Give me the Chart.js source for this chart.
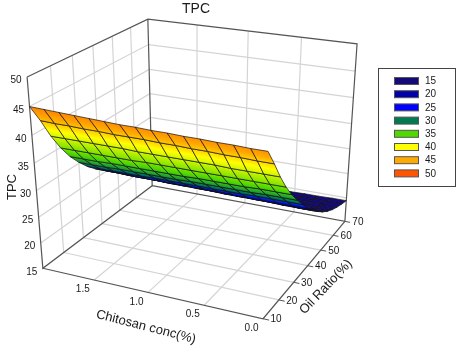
<!DOCTYPE html>
<html>
<head>
<meta charset="utf-8">
<style>
  html, body { margin: 0; padding: 0; background: #fff; }
  #wrap { width: 460px; height: 348px; }
</style>
<script src="https://cdn.jsdelivr.net/npm/chart.js@4/dist/chart.umd.min.js"></script>
</head>
<body>
<div id="wrap"><canvas id="surfaceChart"></canvas></div>
<script>
// grid
const chitosanGrid = [0, 0.133, 0.267, 0.4, 0.533, 0.667, 0.8, 0.933, 1.067, 1.2, 1.333, 1.467, 1.6, 1.733, 1.867, 2.0];
const oilGrid = [10, 14, 18, 22, 26, 30, 34, 38, 42, 46, 50, 54, 58, 62, 66, 70];
const tpcGrid = [
  [44.0, 44.0, 44.1, 44.1, 44.2, 44.2, 44.3, 44.3, 44.4, 44.4, 44.5, 44.6, 44.7, 44.8, 44.9, 45.0],
  [41.0, 41.0, 41.1, 41.1, 41.2, 41.2, 41.3, 41.3, 41.4, 41.4, 41.4, 41.5, 41.5, 41.6, 41.6, 41.7],
  [37.8, 37.8, 37.8, 37.8, 37.9, 37.9, 37.9, 37.9, 37.9, 37.9, 38.0, 38.0, 38.0, 38.0, 38.0, 38.0],
  [35.0, 35.0, 35.0, 35.0, 35.0, 35.0, 35.0, 35.0, 35.0, 35.0, 34.9, 34.9, 34.9, 34.9, 34.9, 34.9],
  [32.6, 32.6, 32.6, 32.5, 32.5, 32.5, 32.5, 32.4, 32.4, 32.4, 32.4, 32.4, 32.4, 32.3, 32.3, 32.3],
  [30.5, 30.5, 30.5, 30.4, 30.4, 30.4, 30.4, 30.4, 30.3, 30.3, 30.3, 30.3, 30.3, 30.2, 30.2, 30.2],
  [28.6, 28.6, 28.6, 28.6, 28.5, 28.5, 28.5, 28.5, 28.5, 28.5, 28.5, 28.4, 28.4, 28.4, 28.4, 28.4],
  [26.7, 26.7, 26.7, 26.7, 26.7, 26.7, 26.8, 26.8, 26.8, 26.8, 26.8, 26.8, 26.8, 26.9, 26.9, 26.9],
  [25.2, 25.2, 25.2, 25.3, 25.3, 25.3, 25.3, 25.4, 25.4, 25.4, 25.4, 25.5, 25.5, 25.5, 25.6, 25.6],
  [23.9, 23.9, 24.0, 24.0, 24.0, 24.1, 24.1, 24.1, 24.1, 24.2, 24.2, 24.2, 24.3, 24.3, 24.4, 24.4],
  [22.7, 22.7, 22.8, 22.8, 22.8, 22.8, 22.9, 22.9, 22.9, 23.0, 23.0, 23.0, 23.1, 23.1, 23.2, 23.2],
  [21.7, 21.7, 21.7, 21.7, 21.8, 21.8, 21.8, 21.8, 21.9, 21.9, 21.9, 21.9, 22.0, 22.0, 22.0, 22.0],
  [20.9, 20.9, 20.9, 20.9, 20.9, 20.9, 20.9, 21.0, 21.0, 21.0, 21.0, 21.0, 21.0, 21.0, 21.0, 21.0],
  [20.3, 20.3, 20.3, 20.3, 20.2, 20.2, 20.2, 20.2, 20.2, 20.2, 20.1, 20.1, 20.1, 20.1, 20.0, 20.0],
  [19.8, 19.8, 19.8, 19.7, 19.7, 19.7, 19.6, 19.6, 19.6, 19.5, 19.5, 19.4, 19.4, 19.3, 19.3, 19.2],
  [19.4, 19.4, 19.3, 19.3, 19.2, 19.2, 19.1, 19.1, 19.0, 19.0, 18.9, 18.8, 18.7, 18.6, 18.5, 18.4]
];

const chitosanTicks = [1.5, 1.0, 0.5, 0.0];
const oilTicks = [10, 20, 30, 40, 50, 60, 70];
const tpcTicks = [15, 20, 25, 30, 35, 40, 45, 50];
const legendLevels = [15, 20, 25, 30, 35, 40, 45, 50];
const levelColors = ['#140a78', '#0000aa', '#0000ff', '#007a50', '#50d800', '#ffff00', '#ffaa00', '#ff5500'];
// tpc value where the mesh reaches each of the legend colours
const meshLevels = [24, 25.8, 27, 29.5, 33.5, 39.5, 42.5, 48];

// where the corners of the 3D box land on the page, used to solve the camera
// [chitosan, oil, tpc, pageX, pageY]
const boxAnchors = [
  [2, 10, 15, 43, 268],
  [0, 10, 15, 263, 319],
  [0, 70, 15, 345, 221],
  [2, 70, 15, 152, 186],
  [2, 10, 50, 27, 77],
  [2, 70, 50, 148, 19],
  [0, 70, 50, 357, 44]
];

const unit = (c, o, t) => [c / 2, (o - 10) / 60, (t - 15) / 35];

// least squares for the 3x4 projection, last term fixed to 1
function solveCamera() {
  const A = [], b = [];
  boxAnchors.forEach(function(a) {
    const [u, v, w] = unit(a[0], a[1], a[2]);
    const X = a[3], Y = a[4];
    A.push([u, v, w, 1, 0, 0, 0, 0, -X * u, -X * v, -X * w]); b.push(X);
    A.push([0, 0, 0, 0, u, v, w, 1, -Y * u, -Y * v, -Y * w]); b.push(Y);
  });
  const n = 11;
  const M = [];
  for (let i = 0; i < n; i++) {
    M.push([]);
    for (let j = 0; j <= n; j++) {
      let sum = 0;
      for (let r = 0; r < A.length; r++) sum += A[r][i] * (j < n ? A[r][j] : b[r]);
      M[i].push(sum);
    }
  }
  for (let i = 0; i < n; i++) {
    let piv = i;
    for (let r = i + 1; r < n; r++) if (Math.abs(M[r][i]) > Math.abs(M[piv][i])) piv = r;
    [M[i], M[piv]] = [M[piv], M[i]];
    for (let r = 0; r < n; r++) {
      if (r === i) continue;
      const f = M[r][i] / M[i][i];
      for (let j = i; j <= n; j++) M[r][j] -= f * M[i][j];
    }
  }
  return M.map((row, i) => row[n] / row[i]);
}
const cam = solveCamera();

function project(c, o, t) {
  const [u, v, w] = unit(c, o, t);
  const d = cam[8] * u + cam[9] * v + cam[10] * w + 1;
  return {
    x: (cam[0] * u + cam[1] * v + cam[2] * w + cam[3]) / d,
    y: (cam[4] * u + cam[5] * v + cam[6] * w + cam[7]) / d
  };
}

function hexRgb(h) {
  return [parseInt(h.slice(1, 3), 16), parseInt(h.slice(3, 5), 16), parseInt(h.slice(5, 7), 16)];
}
function colorAt(t) {
  if (t <= meshLevels[0]) return levelColors[0];
  let i = 0;
  while (i < meshLevels.length - 2 && t > meshLevels[i + 1]) i++;
  const f = Math.min(1, (t - meshLevels[i]) / (meshLevels[i + 1] - meshLevels[i]));
  const a = hexRgb(levelColors[i]), b = hexRgb(levelColors[i + 1]);
  return 'rgb(' + a.map((v, k) => Math.round(v + (b[k] - v) * f)).join(',') + ')';
}

// gradient of one mesh cell, running across the chitosan-wise edges
function cellGradient(chart, oi, ci) {
  const sx = chart.scales.x, sy = chart.scales.y;
  if (!chart.chartArea || !sx || !sy) return 'rgba(0,0,0,0)';
  const px = (c, o, t) => {
    const p = project(c, o, t);
    return [sx.getPixelForValue(p.x), sy.getPixelForValue(p.y)];
  };
  const c0 = chitosanGrid[ci], c1 = chitosanGrid[ci + 1];
  const o0 = oilGrid[oi], o1 = oilGrid[oi + 1];
  const a0 = px(c0, o0, tpcGrid[oi][ci]), a1 = px(c1, o0, tpcGrid[oi][ci + 1]);
  const b0 = px(c0, o1, tpcGrid[oi + 1][ci]), b1 = px(c1, o1, tpcGrid[oi + 1][ci + 1]);
  const ax = (a0[0] + a1[0]) / 2, ay = (a0[1] + a1[1]) / 2;
  const bx = (b0[0] + b1[0]) / 2, by = (b0[1] + b1[1]) / 2;
  let nx = -(a1[1] - a0[1]), ny = a1[0] - a0[0];
  const len = Math.hypot(nx, ny) || 1;
  nx /= len; ny /= len;
  const dist = (bx - ax) * nx + (by - ay) * ny;
  if (!isFinite(ax + ay + dist)) return 'rgba(0,0,0,0)';
  const g = chart.ctx.createLinearGradient(ax, ay, ax + nx * dist, ay + ny * dist);
  const tA = (tpcGrid[oi][ci] + tpcGrid[oi][ci + 1]) / 2;
  const tB = (tpcGrid[oi + 1][ci] + tpcGrid[oi + 1][ci + 1]) / 2;
  g.addColorStop(0, colorAt(tA));
  meshLevels.forEach(function(l, i) {
    if (l < Math.max(tA, tB) && l > Math.min(tA, tB)) g.addColorStop((tA - l) / (tA - tB), levelColors[i]);
  });
  g.addColorStop(1, colorAt(tB));
  return g;
}

const back = [];   // painted first to last, reversed for Chart.js below

function addLine(points, color, width) {
  back.push({
    data: points.map(p => project(p[0], p[1], p[2])),
    showLine: true, borderColor: color, borderWidth: width,
    pointRadius: 0, fill: false, tension: 0, clip: false
  });
}

const gridColor = '#d4d4d4', edgeColor = '#555555';
// gridlines on the walls and floor
[0.5, 1.0, 1.5].forEach(function(c) {
  addLine([[c, 70, 15], [c, 70, 50]], gridColor, 1.2);
  addLine([[c, 10, 15], [c, 70, 15]], gridColor, 1.2);
});
[20, 30, 40, 50, 60].forEach(function(o) {
  addLine([[2, o, 15], [2, o, 50]], gridColor, 1.2);
  addLine([[0, o, 15], [2, o, 15]], gridColor, 1.2);
});
[20, 25, 30, 35, 40, 45].forEach(function(t) {
  addLine([[2, 10, t], [2, 70, t], [0, 70, t]], gridColor, 1.2);
});
// box edges
addLine([[2, 10, 50], [2, 70, 50], [0, 70, 50], [0, 70, 15], [2, 70, 15], [2, 10, 15], [2, 10, 50]], edgeColor, 1.2);
addLine([[2, 70, 15], [2, 70, 50]], edgeColor, 1.2);
addLine([[2, 10, 15], [0, 10, 15], [0, 70, 15]], edgeColor, 1.2);
oilTicks.forEach(function(o) {
  addLine([[0, o, 15], [-0.05, o, 15]], edgeColor, 1);
});

// mesh cells, far corner first
for (let oi = oilGrid.length - 2; oi >= 0; oi--) {
  for (let ci = chitosanGrid.length - 2; ci >= 0; ci--) {
    const c0 = chitosanGrid[ci], c1 = chitosanGrid[ci + 1], o0 = oilGrid[oi], o1 = oilGrid[oi + 1];
    back.push({
      data: [
        project(c0, o0, tpcGrid[oi][ci]),
        project(c1, o0, tpcGrid[oi][ci + 1]),
        project(c1, o1, tpcGrid[oi + 1][ci + 1]),
        project(c0, o1, tpcGrid[oi + 1][ci]),
        project(c0, o0, tpcGrid[oi][ci])
      ],
      showLine: true, borderColor: '#111111', borderWidth: 0.7,
      backgroundColor: ctx => cellGradient(ctx.chart, oi, ci),
      pointRadius: 0, fill: 'shape', tension: 0, clip: false
    });
  }
}

// tick labels, axis titles and the legend box
const annotations = {
  id: 'annotations',
  afterDraw(chart) {
    const ctx = chart.ctx, sx = chart.scales.x, sy = chart.scales.y;
    const at = p => [sx.getPixelForValue(p.x), sy.getPixelForValue(p.y)];
    ctx.save();
    ctx.fillStyle = '#1a1a1a';
    ctx.textAlign = 'center';
    ctx.textBaseline = 'middle';
    ctx.font = '10px "Liberation Sans"';
    chitosanTicks.forEach(function(c) {
      const [x, y] = at(project(c, 10, 15));
      ctx.fillText(c.toFixed(1), x - 11.5, y + 9.5);
    });
    oilTicks.forEach(function(o) {
      const [x, y] = at(project(0, o, 15));
      ctx.fillText(String(o), x + 13, y + 1);
    });
    tpcTicks.forEach(function(t) {
      const [x, y] = at(project(2, 10, t));
      ctx.fillText(String(t), x - 11, y + 3.5);
    });

    ctx.font = '13px "Liberation Sans"';
    [['Chitosan conc(%)', 146, 327, 14.4], ['Oil Ratio(%)', 326, 287, -46.4], ['TPC', 12, 187, -90]].forEach(function(l) {
      ctx.save();
      ctx.translate(l[1], l[2]);
      ctx.rotate(l[3] * Math.PI / 180);
      ctx.fillText(l[0], 0, 0);
      ctx.restore();
    });

    ctx.strokeStyle = '#444444';
    ctx.lineWidth = 1;
    ctx.strokeRect(378.5, 68.5, 77, 118);
    ctx.font = '10px "Liberation Sans"';
    ctx.textAlign = 'left';
    legendLevels.forEach(function(l, i) {
      const y = 81 + i * 13.2;
      ctx.fillStyle = levelColors[i];
      ctx.fillRect(394.5, y - 3.5, 24, 7);
      ctx.strokeStyle = '#555555';
      ctx.strokeRect(394.5, y - 3.5, 24, 7);
      ctx.fillStyle = '#1a1a1a';
      ctx.fillText(String(l), 425, y + 0.5);
    });
    ctx.restore();
  }
};

new Chart(document.getElementById('surfaceChart'), {
  type: 'scatter',
  data: { datasets: back.slice().reverse() },
  plugins: [annotations],
  options: {
    responsive: true,
    maintainAspectRatio: false,
    animation: false,
    events: [],
    layout: { padding: { right: 68 } },
    plugins: {
      legend: { display: false },
      tooltip: { enabled: false },
      title: {
        display: true,
        text: 'TPC',
        color: '#1a1a1a',
        font: { family: '"Liberation Sans"', size: 14, weight: 'normal' },
        padding: { top: 0.6, bottom: 0.6 }
      }
    },
    scales: {
      x: { type: 'linear', display: false, min: 0, max: 392 },
      y: { type: 'linear', display: false, min: 18, max: 348, reverse: true }
    }
  }
});
</script>
</body>
</html>
